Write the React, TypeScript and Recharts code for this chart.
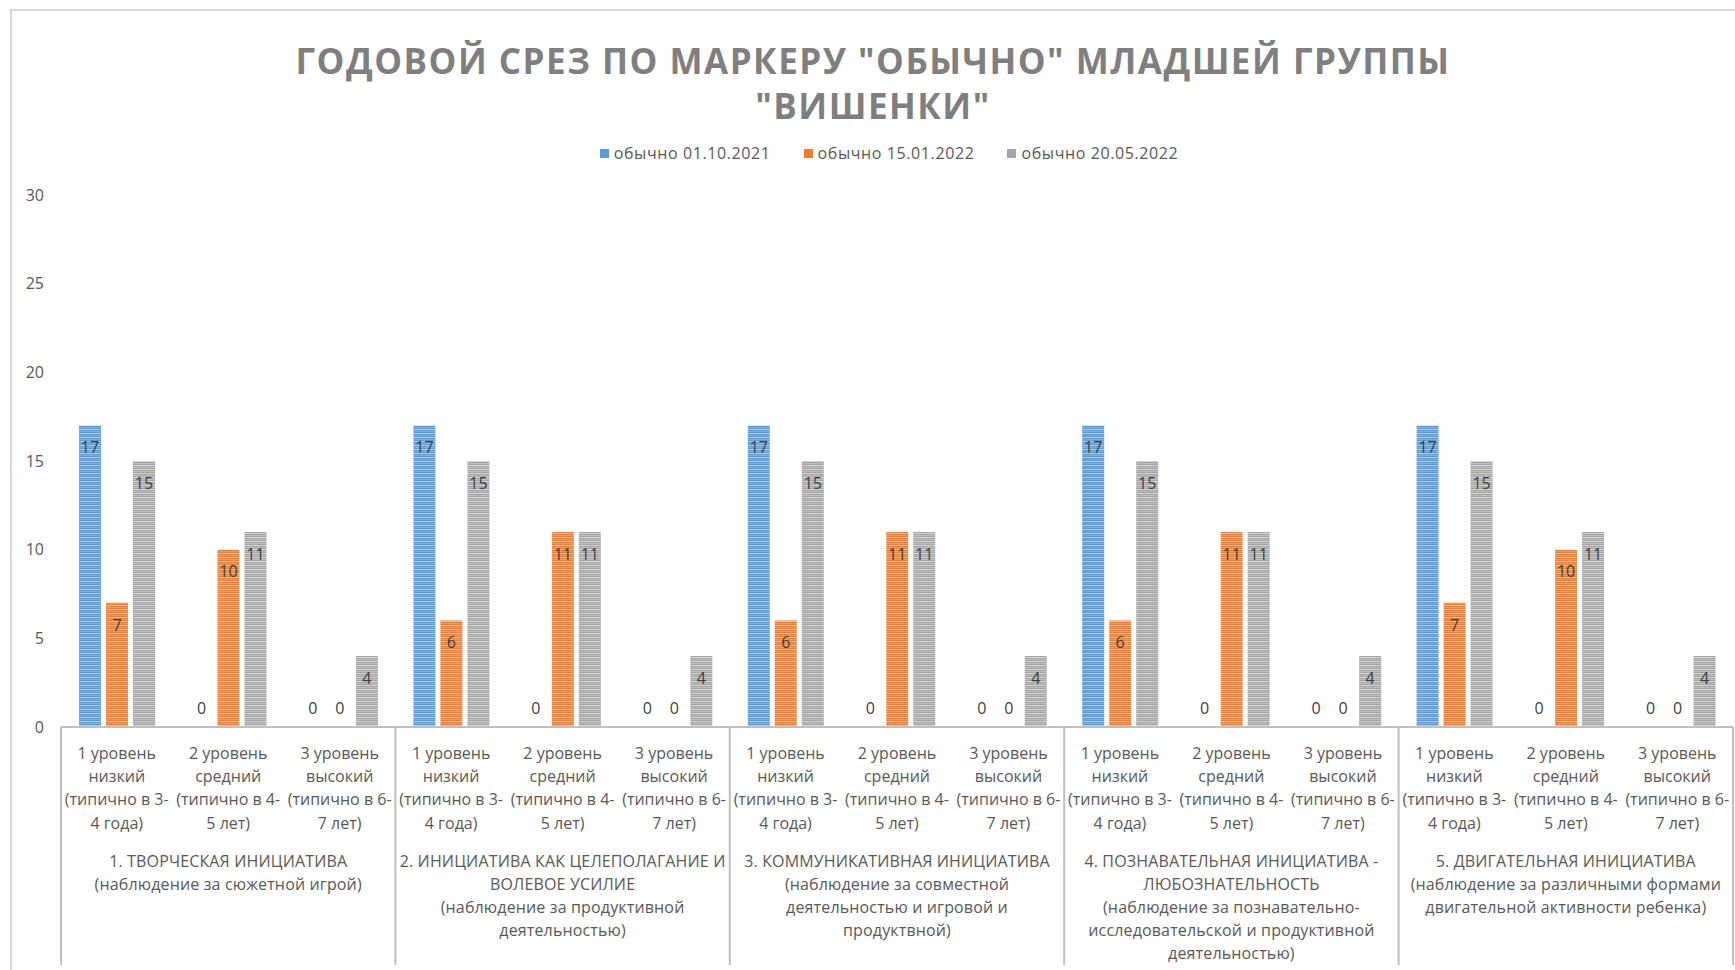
import { BarChart, Bar, XAxis, YAxis, LabelList } from "recharts";

const title = ["ГОДОВОЙ СРЕЗ ПО МАРКЕРУ \"ОБЫЧНО\" МЛАДШЕЙ ГРУППЫ", "\"ВИШЕНКИ\""];

const seriesNames = ["обычно 01.10.2021", "обычно 15.01.2022", "обычно 20.05.2022"];
const seriesKeys = ["oct", "jan", "may"];

// per level (1, 2, 3) for each of the 5 groups
const oct2021 = [17, 0, 0, 17, 0, 0, 17, 0, 0, 17, 0, 0, 17, 0, 0];
const jan2022 = [7, 10, 0, 6, 11, 0, 6, 11, 0, 6, 11, 0, 7, 10, 0];
const may2022 = [15, 11, 4, 15, 11, 4, 15, 11, 4, 15, 11, 4, 15, 11, 4];

const levelLabels = [
  ["1 уровень", "низкий", "(типично в 3-", "4 года)"],
  ["2 уровень", "средний", "(типично в 4-", "5 лет)"],
  ["3 уровень", "высокий", "(типично в 6-", "7 лет)"],
];

const groupLabels = [
  ["1. ТВОРЧЕСКАЯ ИНИЦИАТИВА", "(наблюдение за сюжетной игрой)"],
  ["2. ИНИЦИАТИВА КАК ЦЕЛЕПОЛАГАНИЕ И", "ВОЛЕВОЕ УСИЛИЕ", "(наблюдение за продуктивной", "деятельностью)"],
  ["3. КОММУНИКАТИВНАЯ ИНИЦИАТИВА", "(наблюдение за совместной", "деятельностью и игровой и", "продуктвной)"],
  ["4. ПОЗНАВАТЕЛЬНАЯ ИНИЦИАТИВА -", "ЛЮБОЗНАТЕЛЬНОСТЬ", "(наблюдение за познавательно-", "исследовательской и продуктивной", "деятельностью)"],
  ["5. ДВИГАТЕЛЬНАЯ ИНИЦИАТИВА", "(наблюдение за различными формами", "двигательной активности ребенка)"],
];

const yTicks = [0, 5, 10, 15, 20, 25, 30];

const data = oct2021.map((v, i) => ({
  id: "c" + i,
  oct: v,
  jan: jan2022[i],
  may: may2022[i],
}));

const colors = ["#5b9bd5", "#ed7d31", "#a5a5a5"];
const lightColors = ["#a8cdef", "#f7b98f", "#d4d4d4"];
const midColors = ["#7fb1e0", "#f29a5e", "#bdbdbd"];

const FONT = '"Open Sans", "Noto Sans", sans-serif';
const AXIS_GREY = "#bfbfbf";
const TEXT_GREY = "#595959";

function LevelTick(props: any) {
  const { x, y, index, payload } = props;
  const half = payload && payload.offset ? payload.offset : 55.7;
  const lines = levelLabels[index % 3];
  return (
    <g>
      {index % 3 === 0 && (
        <line x1={x - half} x2={x - half} y1={y} y2={y + 238} stroke={AXIS_GREY} strokeWidth={2} />
      )}
      {index === oct2021.length - 1 && (
        <line x1={x + half} x2={x + half} y1={y} y2={y + 238} stroke={AXIS_GREY} strokeWidth={2} />
      )}
      {lines.map((t, i) => (
        <text key={i} x={x} y={y + 26 + i * 23.4} dy="0.355em" textAnchor="middle" fontSize={16} fill={TEXT_GREY} fontFamily={FONT}>
          {t}
        </text>
      ))}
    </g>
  );
}

function GroupTick(props: any) {
  const { x, y, index } = props;
  if (index % 3 !== 1) return <g />;
  const lines = groupLabels[Math.floor(index / 3)];
  return (
    <g>
      {lines.map((t, i) => (
        <text key={i} x={x} y={y + 26 + i * 23.2} dy="0.355em" textAnchor="middle" fontSize={16} fill={TEXT_GREY} fontFamily={FONT} letterSpacing={0.15}>
          {t}
        </text>
      ))}
    </g>
  );
}

function ValueLabel(props: any) {
  const x = Number(props.x);
  const y = Number(props.y);
  const w = Number(props.width);
  const v = Number(props.value);
  const ty = v === 0 ? y - 19 : y + 22;
  return (
    <text x={x + w / 2} y={ty} dy="0.355em" textAnchor="middle" fontSize={16} fill="#404040" fontFamily={FONT}>
      {v}
    </text>
  );
}

// zero-value bars get a hair of height so their "0" label is still placed
const zeroPointSize = (value: any) => (Number(value) === 0 ? 0.001 : 0);

export default function App() {
  return (
    <div style={{ position: "absolute", left: 0, top: 0, width: 1735, height: 970, background: "#fff", overflow: "hidden", fontFamily: FONT }}>
      <div style={{ position: "absolute", left: 10, top: 9, width: 1740, height: 980, border: "2px solid #d9d9d9", boxSizing: "border-box" }} />
      <div style={{ position: "absolute", left: 11, width: 1724, top: 38, textAlign: "center", color: "#7f7f7f", fontWeight: 700, fontSize: 35, letterSpacing: 1.5, lineHeight: "45px" }}>
        {title.map((t, i) => (
          <div key={i}>{t}</div>
        ))}
      </div>
      <div style={{ position: "absolute", left: 27, width: 1724, top: 141, display: "flex", justifyContent: "center", gap: 33, fontSize: 16, color: TEXT_GREY, letterSpacing: 0.6, lineHeight: "24px" }}>
        {seriesNames.map((n, i) => (
          <div key={n} style={{ display: "flex", alignItems: "center" }}>
            <span style={{ display: "inline-block", width: 9, height: 9, background: colors[i], marginRight: 5 }} />
            {n}
          </div>
        ))}
      </div>
      <div style={{ position: "absolute", left: 0, top: 0 }}>
        <BarChart width={1735} height={970} data={data} margin={{ top: 195, right: 2, bottom: 0, left: 11 }} barSize={22} barGap={5}>
          <defs>
            {seriesKeys.map((k, i) => (
              <pattern key={k} id={"stripe-" + k} width={4} height={4} patternUnits="userSpaceOnUse">
                <rect width={4} height={4} fill={colors[i]} />
                <rect y={1} width={4} height={1} fill={lightColors[i]} />
                <rect y={3} width={4} height={1} fill={midColors[i]} />
              </pattern>
            ))}
          </defs>
          <XAxis
            xAxisId={0}
            dataKey="id"
            height={108}
            interval={0}
            tickSize={0}
            tickMargin={0}
            tickLine={false}
            axisLine={{ stroke: AXIS_GREY, strokeWidth: 2 }}
            tick={<LevelTick />}
          />
          <XAxis
            xAxisId="g"
            dataKey="id"
            height={135}
            interval={0}
            tickSize={0}
            tickMargin={0}
            tickLine={false}
            axisLine={false}
            tick={<GroupTick />}
          />
          <YAxis
            width={50}
            domain={[0, 30]}
            ticks={yTicks}
            interval={0}
            axisLine={false}
            tickLine={false}
            tickMargin={11}
            tick={{ fontSize: 16, fill: TEXT_GREY, fontFamily: FONT }}
          />
          {seriesKeys.map((k, i) => (
            <Bar key={k} dataKey={k} name={seriesNames[i]} fill={"url(#stripe-" + k + ")"} minPointSize={zeroPointSize} isAnimationActive={false}>
              <LabelList dataKey={k} content={<ValueLabel />} />
            </Bar>
          ))}
        </BarChart>
      </div>
    </div>
  );
}
